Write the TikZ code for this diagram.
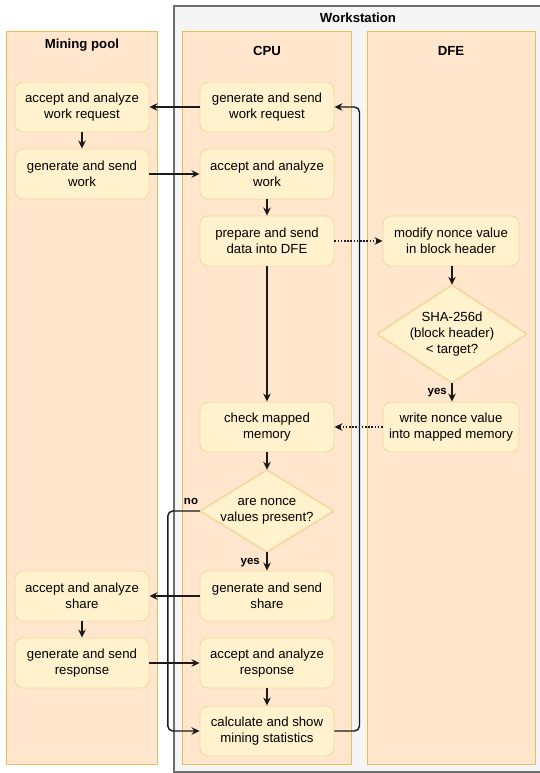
\documentclass[tikz,border=0pt]{standalone}
\usepackage{fontspec}
\setmainfont{Liberation Sans}
\usetikzlibrary{arrows.meta}
\definecolor{lanefill}{HTML}{FFE6CC}
\definecolor{lanedraw}{HTML}{E3BF5C}
\definecolor{stepfill}{HTML}{FFF2CC}
\definecolor{stepdraw}{HTML}{F3D9A4}
\definecolor{wsfill}{HTML}{F5F5F5}
\definecolor{wsdraw}{HTML}{6E6E6E}
\definecolor{flow}{HTML}{1A1A1A}
\begin{document}
\begin{tikzpicture}[x=1pt,y=-1pt,
  lane/.style={fill=lanefill, draw=lanedraw, line width=0.9pt},
  lanetitle/.style={font=\fontsize{13.2}{15.8}\selectfont\bfseries},
  stepbox/.style={rectangle, rounded corners=8pt, fill=stepfill, draw=stepdraw,
    line width=0.9pt, minimum width=134pt, minimum height=50pt, align=center,
    inner sep=0pt, font=\fontsize{13.2}{15.8}\selectfont},
  decision/.style={rectangle, inner sep=0pt, align=center,
    font=\fontsize{13.2}{15.8}\selectfont,
    path picture={
      \fill[stepfill] (path picture bounding box.north) -- (path picture bounding box.east)
        -- (path picture bounding box.south) -- (path picture bounding box.west) -- cycle;
      \draw[stepdraw, line width=1.8pt] (path picture bounding box.north) -- (path picture bounding box.east)
        -- (path picture bounding box.south) -- (path picture bounding box.west) -- cycle;}},
  flowline/.style={draw=flow, line width=1.4pt, -{Stealth[length=8pt,width=7.5pt]}},
  dataline/.style={flowline, dash pattern=on 1.6pt off 1.6pt},
  branch/.style={font=\fontsize{11.5}{13}\selectfont\bfseries, inner sep=0pt}]

\useasboundingbox (0,0) rectangle (539,773);

% workstation frame and the three swimlanes
\draw[fill=wsfill, draw=wsdraw, line width=1.2pt] (174,6) rectangle (548,772);
\node[lanetitle] (wstitle) at (358,18) {Workstation};
\draw[lane] (6,31) rectangle (157,764);
\draw[lane] (182,31) rectangle (351,764);
\draw[lane] (367,31) rectangle (535,764);
\node[lanetitle] (pooltitle) at (82,45) {Mining pool};
\node[lanetitle] (cputitle) at (267,51) {CPU};
\node[lanetitle] (dfetitle) at (451,51) {DFE};

% mining pool steps
\node[stepbox] (mpreq) at (82,107) {accept and analyze\\work request};
\node[stepbox] (mpwork) at (82,174) {generate and send\\work};
\node[stepbox] (mpshare) at (82,596) {accept and analyze\\share};
\node[stepbox] (mpresp) at (82,663) {generate and send\\response};

% CPU steps
\node[stepbox] (req) at (267,107) {generate and send\\work request};
\node[stepbox] (acc) at (267,174) {accept and analyze\\work};
\node[stepbox] (prep) at (267,241) {prepare and send\\data into DFE};
\node[stepbox] (chk) at (267,427) {check mapped\\memory};
\node[decision, minimum width=134pt, minimum height=82pt] (nonce) at (267,511) {are nonce\\values present?};
\node[stepbox] (share) at (267,596) {generate and send\\share};
\node[stepbox] (resp) at (267,663) {accept and analyze\\response};
\node[stepbox] (calc) at (267,731) {calculate and show\\mining statistics};

% DFE steps
\node[stepbox, minimum width=136pt] (mod) at (451,241) {modify nonce value\\in block header};
\node[decision, minimum width=150pt, minimum height=98pt] (sha) at (452,334) {SHA-256d\\(block header)\\< target?};
\node[stepbox, minimum width=136pt] (wr) at (451,427) {write nonce value\\into mapped memory};

% connectors
\draw[flowline] (req) -- (mpreq);
\draw[flowline] (mpreq) -- (mpwork);
\draw[flowline] (mpwork) -- (acc);
\draw[flowline] (acc) -- (prep);
\draw[dataline] (prep) -- (mod);
\draw[flowline] (mod.south -| sha.north) -- (sha);
\draw[flowline] (sha) -- (sha.south |- wr.north);
\node[branch, anchor=east] (shayes) at (447,393) {yes};
\draw[dataline] (wr) -- (chk);
\draw[flowline] (prep) -- (chk);
\draw[flowline] (chk) -- (nonce);
\draw[flowline] (nonce) -- (share);
\node[branch, anchor=east] (nonceyes) at (260,563) {yes};
\draw[flowline, rounded corners=5pt] (nonce.west) -- ++(-32,0) |- (calc.west);
\node[branch] (nonceno) at (191,501) {no};
\draw[flowline] (share) -- (mpshare);
\draw[flowline] (mpshare) -- (mpresp);
\draw[flowline] (mpresp) -- (resp);
\draw[flowline] (resp) -- (calc);
\draw[flowline, rounded corners=5pt] (calc.east) -- ++(25,0) |- (req.east);
\end{tikzpicture}
\end{document}
